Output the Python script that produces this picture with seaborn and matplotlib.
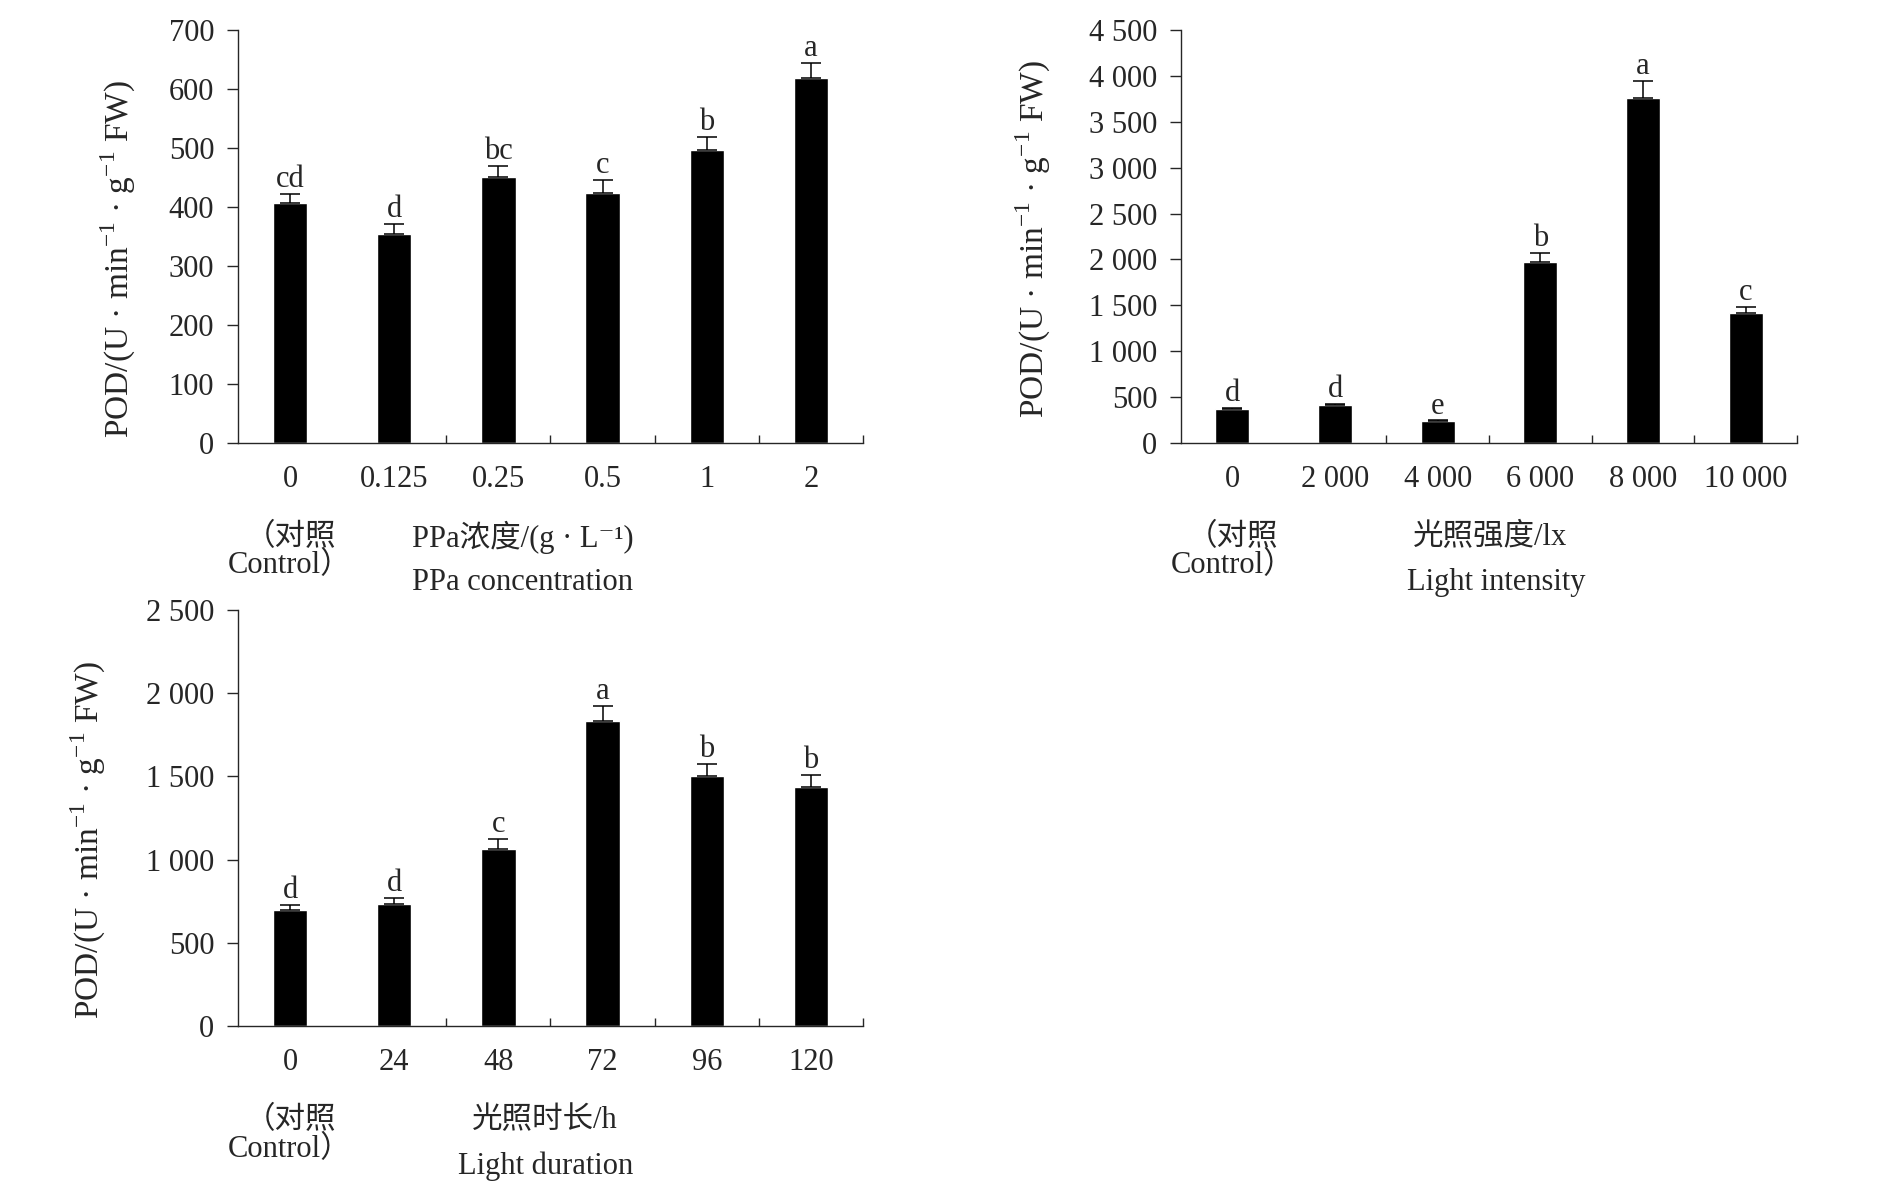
import matplotlib
matplotlib.use('Agg')
import matplotlib.pyplot as plt
import matplotlib.transforms as mtransforms
from matplotlib.ticker import FuncFormatter, MultipleLocator, FixedLocator
import numpy as np
import pandas as pd
import seaborn as sns

# PPa concentration panel
ppa_labels = ['0', '0.125', '0.25', '0.5', '1', '2']
ppa_pod = [406, 355, 450, 424, 496, 618]
ppa_err = [16, 16, 20, 21, 23, 26]
ppa_letters = ['cd', 'd', 'bc', 'c', 'b', 'a']

# light intensity panel
light_labels = ['0', '2 000', '4 000', '6 000', '8 000', '10 000']
light_pod = [365, 415, 240, 1968, 3755, 1421]
light_err = [12, 10, 5, 99, 194, 56]
light_letters = ['d', 'd', 'e', 'b', 'a', 'c']

# light duration panel
dur_labels = ['0', '24', '48', '72', '96', '120']
dur_pod = [698, 733, 1065, 1833, 1500, 1435]
dur_err = [28, 35, 60, 90, 72, 72]
dur_letters = ['d', 'd', 'c', 'a', 'b', 'b']

sns.set_style('white')
plt.rcParams['font.family'] = ['Liberation Serif', 'Noto Sans CJK SC', 'DejaVu Serif']
plt.rcParams['mathtext.fontset'] = 'custom'
plt.rcParams['mathtext.rm'] = 'Liberation Serif'
plt.rcParams['axes.linewidth'] = 1.0

FS = 22
YLAB = r'POD/(U · min$^{\mathregular{-1}}$ · g$^{\mathregular{-1}}$ FW)'


def thousands(v, pos):
    return f'{int(v):,}'.replace(',', ' ')


def draw_panel(ax, labels, values, errs, letters, ymax, ystep,
               cn_label, en_label, cn_x, en_x, ylab_xy):
    df = pd.DataFrame({'x': labels, 'y': values})
    sns.barplot(data=df, x='x', y='y', order=labels, color='black',
                saturation=1, width=0.33, errorbar=None, ax=ax)
    pos = np.arange(len(labels))
    ax.errorbar(pos, values, yerr=[np.zeros(len(errs)), errs], fmt='none',
                ecolor='black', elinewidth=1.1, capsize=7, capthick=1.1)
    for i, (v, e, t) in enumerate(zip(values, errs, letters)):
        ax.annotate(t, (i, v + e), xytext=(0, 5), textcoords='offset points',
                    ha='center', va='baseline', fontsize=FS)
    ax.set_xlim(-0.5, len(labels) - 0.5)
    ax.set_ylim(0, ymax)
    ax.yaxis.set_major_locator(MultipleLocator(ystep))
    ax.yaxis.set_major_formatter(FuncFormatter(thousands))
    ax.xaxis.set_minor_locator(FixedLocator(pos[1:] + 0.5))
    ax.tick_params(axis='y', direction='out', length=8, width=1,
                   labelsize=FS, pad=9, left=True)
    ax.tick_params(axis='x', which='major', length=0, labelsize=FS, pad=16)
    ax.tick_params(axis='x', which='minor', direction='in', length=6,
                   width=1, bottom=True)
    sns.despine(ax=ax)
    ax.set_xlabel('')
    ax.set_ylabel(YLAB, fontsize=24)
    ax.yaxis.label.set_va('center')
    ax.yaxis.set_label_coords(*ylab_xy)
    tr = mtransforms.blended_transform_factory(ax.transData, ax.transAxes)
    ax.text(0, -0.228, '（对照', transform=tr, ha='center', va='center', fontsize=FS)
    ax.text(0, -0.296, 'Control）', transform=tr, ha='center', va='center', fontsize=FS)
    ax.text(cn_x, -0.228, cn_label, transform=tr, ha='center', va='center', fontsize=FS)
    ax.text(en_x, -0.338, en_label, transform=tr, ha='center', va='center', fontsize=FS)


fig = plt.figure(figsize=(18.9, 11.93), dpi=100)
ax1 = fig.add_axes([0.1259, 0.6287, 0.3307, 0.3462])
ax2 = fig.add_axes([0.6249, 0.6287, 0.3259, 0.3462])
ax3 = fig.add_axes([0.1259, 0.1400, 0.3307, 0.3487])

draw_panel(ax1, ppa_labels, ppa_pod, ppa_err, ppa_letters, 700, 100,
           'PPa浓度/(g · L⁻¹)', 'PPa concentration', 2.23, 2.23, (-0.192, 0.445))
draw_panel(ax2, light_labels, light_pod, light_err, light_letters, 4500, 500,
           '光照强度/lx', 'Light intensity', 2.51, 2.57, (-0.24, 0.494))
draw_panel(ax3, dur_labels, dur_pod, dur_err, dur_letters, 2500, 500,
           '光照时长/h', 'Light duration', 2.45, 2.45, (-0.24, 0.447))

fig.savefig('out.png', dpi=100)
